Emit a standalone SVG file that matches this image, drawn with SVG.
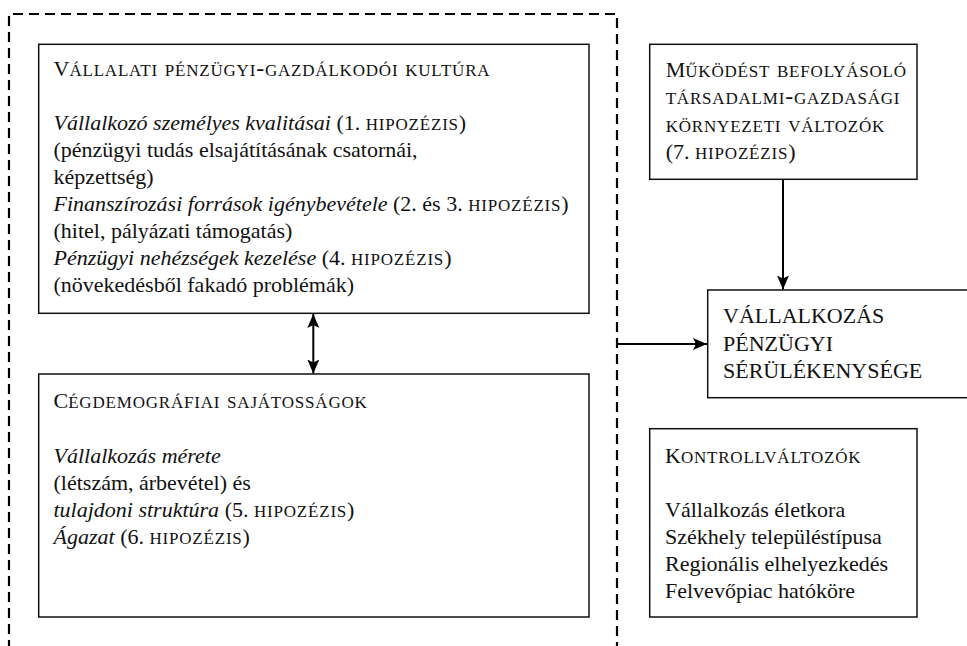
<svg xmlns="http://www.w3.org/2000/svg" width="967" height="646" viewBox="0 0 967 646">
<style>
text{font-family:"Liberation Serif","Times New Roman",serif;font-size:22px;fill:#111}
.sc{font-variant:small-caps;font-size:24px;letter-spacing:0.8px}
.it{font-style:italic}
.box{fill:#fff;stroke:#111;stroke-width:1.5}
.con{fill:none;stroke:#000;stroke-width:2}
.dash{fill:none;stroke:#000;stroke-width:2.2;stroke-dasharray:10 6}
</style>
<defs>
<marker id="ah" viewBox="0 0 14 12" refX="14" refY="6" markerWidth="14" markerHeight="12" markerUnits="userSpaceOnUse" orient="auto-start-reverse">
<path d="M0,0 L14,6 L0,12 L3,6 z" fill="#000"/>
</marker>
</defs>
<rect width="967" height="646" fill="#fff"/>
<g id="connectors">
<path class="dash" d="M9,650 L9,14 L617,14 L617,650"/>
<line class="con" x1="313.3" y1="314" x2="313.3" y2="373.5" marker-start="url(#ah)" marker-end="url(#ah)"/>
<line class="con" x1="783" y1="179.3" x2="783" y2="289.5" marker-end="url(#ah)"/>
<line class="con" x1="617" y1="344" x2="707" y2="344" marker-end="url(#ah)"/>
</g>
<g id="kultura">
<rect class="box" x="38.7" y="44.3" width="550.3" height="269"/>
<text x="53.5" y="76">V<tspan class="sc">állalati pénzügyi-gazdálkodói kultúra</tspan></text>
<text x="53.5" y="130"><tspan class="it">Vállalkozó személyes kvalitásai</tspan> (1. <tspan class="sc">hipozézis</tspan>)</text>
<text x="53.5" y="157">(pénzügyi tudás elsajátításának csatornái,</text>
<text x="53.5" y="184">képzettség)</text>
<text x="53.5" y="211"><tspan class="it">Finanszírozási források igénybevétele</tspan> (2. és 3. <tspan class="sc">hipozézis</tspan>)</text>
<text x="53.5" y="238">(hitel, pályázati támogatás)</text>
<text x="53.5" y="265"><tspan class="it">Pénzügyi nehézségek kezelése</tspan> (4. <tspan class="sc">hipozézis</tspan>)</text>
<text x="53.5" y="292">(növekedésből fakadó problémák)</text>
</g>
<g id="cegdemografia">
<rect class="box" x="38.7" y="374" width="550.3" height="243"/>
<text x="53.5" y="408">C<tspan class="sc">égdemográfiai sajátosságok</tspan></text>
<text x="53.5" y="463" class="it">Vállalkozás mérete</text>
<text x="53.5" y="490">(létszám, árbevétel) és</text>
<text x="53.5" y="517"><tspan class="it">tulajdoni struktúra</tspan> (5. <tspan class="sc">hipozézis</tspan>)</text>
<text x="53.5" y="544"><tspan class="it">Ágazat</tspan> (6. <tspan class="sc">hipozézis</tspan>)</text>
</g>
<g id="kornyezet">
<rect class="box" x="649.7" y="44.3" width="267.3" height="135"/>
<text x="665.7" y="76.7">M<tspan class="sc">űködést befolyásoló</tspan></text>
<text x="665.7" y="104" class="sc">társadalmi-gazdasági</text>
<text x="665.7" y="131.7" class="sc">környezeti változók</text>
<text x="665.7" y="159">(7. <tspan class="sc">hipozézis</tspan>)</text>
</g>
<g id="serulekenyseg">
<rect class="box" x="707.7" y="290" width="270" height="107.7"/>
<text x="723" y="323">VÁLLALKOZÁS</text>
<text x="723" y="350.5">PÉNZÜGYI</text>
<text x="723" y="377.5">SÉRÜLÉKENYSÉGE</text>
</g>
<g id="kontroll">
<rect class="box" x="649.7" y="428.7" width="267.3" height="188.3"/>
<text x="665" y="462.7">K<tspan class="sc">ontrollváltozók</tspan></text>
<text x="665" y="516.7">Vállalkozás életkora</text>
<text x="665" y="544">Székhely településtípusa</text>
<text x="665" y="571">Regionális elhelyezkedés</text>
<text x="665" y="598">Felvevőpiac hatóköre</text>
</g>
</svg>
